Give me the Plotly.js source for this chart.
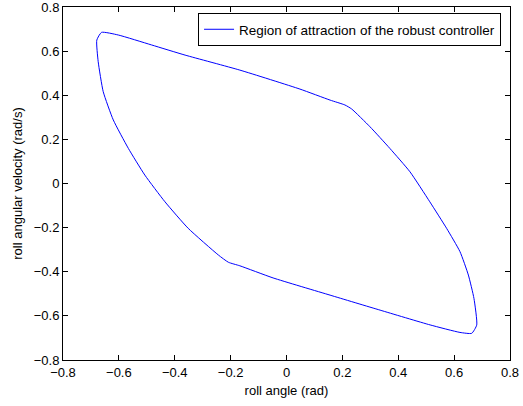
<!DOCTYPE html>
<html>
<head>
<meta charset="utf-8">
<script src="https://cdn.plot.ly/plotly-3.0.1.min.js"></script>
<style>html,body{margin:0;padding:0;background:#fff;}#chart{width:523px;height:406px;}</style>
</head>
<body>
<div id="chart"></div>
<script>
// Boundary of the region of attraction (roll angle, roll angular velocity)
const rollAngle = [
  -0.662, -0.602, -0.483, -0.363, -0.167, 0.048, 0.156, 0.209,
  0.233, 0.299, 0.370, 0.442, 0.513, 0.573, 0.621, 0.651, 0.671, 0.681, 0.663,
  0.621, 0.514, 0.335, 0.156, -0.048, -0.167, -0.208,
  -0.244, -0.352, -0.435, -0.507, -0.566, -0.620, -0.656, -0.674, -0.679, -0.662
];
const rollRate = [
  0.685, 0.673, 0.628, 0.582, 0.514, 0.428, 0.378, 0.356,
  0.338, 0.257, 0.159, 0.053, -0.083, -0.203, -0.309, -0.415, -0.521, -0.641, -0.679,
  -0.675, -0.641, -0.574, -0.506, -0.428, -0.373, -0.357,
  -0.324, -0.203, -0.083, 0.038, 0.159, 0.288, 0.416, 0.552, 0.650, 0.685
];
const seriesName = 'Region of attraction of the robust controller';
const tickVals = [-0.8, -0.6, -0.4, -0.2, 0, 0.2, 0.4, 0.6, 0.8];

const fontFam = '"Liberation Sans", Arial, Helvetica, sans-serif';
const fontSize = 13;
const axisCommon = {
  range: [-0.8, 0.8],
  tickvals: tickVals,
  ticks: 'inside',
  ticklen: 5,
  tickcolor: '#000',
  tickwidth: 1,
  showline: true,
  linecolor: '#000',
  linewidth: 1,
  mirror: 'ticks',
  showgrid: false,
  zeroline: false,
  ticklabeloverflow: 'allow',
  tickfont: {family: fontFam, size: fontSize, color: '#000'}
};

const data = [{
  x: rollAngle,
  y: rollRate,
  type: 'scatter',
  mode: 'lines',
  name: seriesName,
  line: {color: '#0000ff', width: 1, shape: 'spline', smoothing: 0.5},
  showlegend: true
}];

const layout = {
  width: 523,
  height: 406,
  margin: {l: 63, r: 13, t: 7, b: 46},
  paper_bgcolor: '#fff',
  plot_bgcolor: '#fff',
  font: {family: fontFam, size: fontSize, color: '#000'},
  xaxis: Object.assign({}, axisCommon, {
    title: {text: 'roll angle (rad)', font: {family: fontFam, size: fontSize, color: '#000'}, standoff: 7}
  }),
  yaxis: Object.assign({}, axisCommon, {
    title: {text: 'roll angular velocity (rad/s)', font: {family: fontFam, size: fontSize, color: '#000'}, standoff: 8}
  }),
  legend: {
    x: 0.98, y: 0.983, xanchor: 'right', yanchor: 'top',
    bgcolor: '#fff', bordercolor: '#000', borderwidth: 1,
    font: {family: fontFam, size: 13.5, color: '#000'},
    tracegroupgap: 0
  },
  showlegend: true
};

Plotly.newPlot('chart', data, layout, {staticPlot: true, displayModeBar: false});
</script>
</body>
</html>
